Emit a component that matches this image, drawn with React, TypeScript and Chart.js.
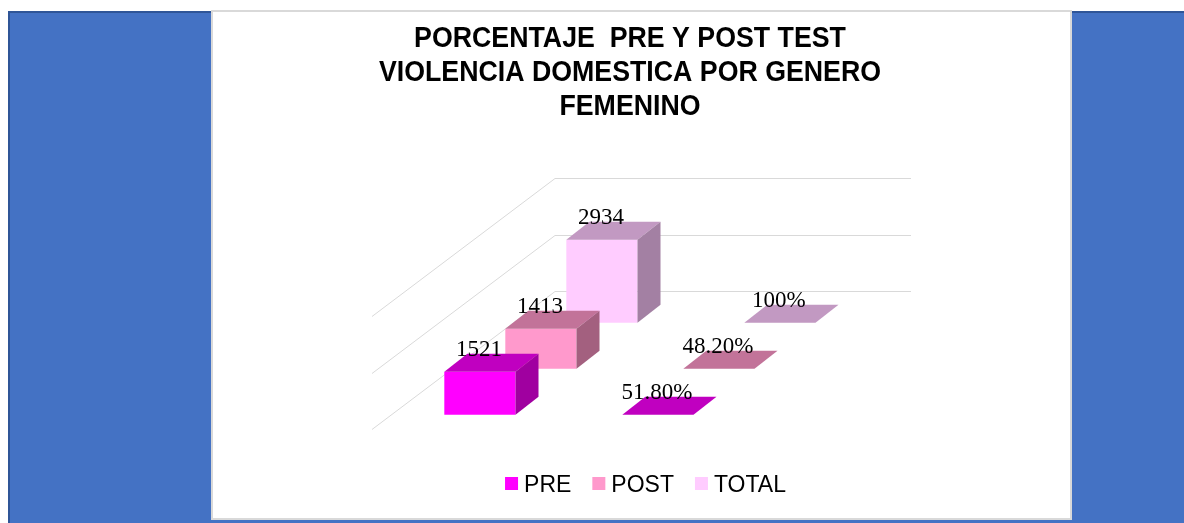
import React, { useEffect, useRef } from "react";
import { Chart, registerables } from "chart.js";

Chart.register(...registerables);

// ---------- data ----------
const CATEGORIES = ["Cantidad", "Porcentaje"];
const SERIES_NAMES = ["PRE", "POST", "TOTAL"];
const PRE_VALUES = [1521, 0.518];
const POST_VALUES = [1413, 0.482];
const TOTAL_VALUES = [2934, 1];
const Y_MIN = 0;
const Y_MAX = 4000;
const Y_STEP = 2000;
const TITLE_LINES = [
  "PORCENTAJE  PRE Y POST TEST",
  "VIOLENCIA DOMESTICA POR GENERO",
  "FEMENINO",
];

// ---------- styles ----------
const FRONT = ["#FF00FF", "#FF99CC", "#FFCCFF"];
const TOP = ["#C000C0", "#C27399", "#C299C2"];
const SIDE = ["#A000A0", "#A3607F", "#A380A3"];
const GRID = "#D9D9D9";

const ROW_DX = 61;
const ROW_DY = -46;
const ROW_START = 0.31;
const BAR_DX = 23;
const BAR_DY = -18;
const WALL_DEPTH = 3;

const CANVAS_W = 857;
const CANVAS_H = 506;

const fmt = (v: number, j: number) => {
  if (j === 0) return String(v);
  const p = v * 100;
  return Math.abs(p - Math.round(p)) < 1e-9 ? Math.round(p) + "%" : p.toFixed(2) + "%";
};

const rowOffset = (i: number) => {
  const d = ROW_START + i;
  return { ox: d * ROW_DX, oy: d * ROW_DY };
};

const threeD = {
  id: "threeD",
  beforeDatasetsDraw(chart: any) {
    const { ctx, chartArea, scales } = chart;
    const y = scales.y;
    const wx = WALL_DEPTH * ROW_DX;
    const wy = WALL_DEPTH * ROW_DY;
    ctx.save();
    ctx.strokeStyle = GRID;
    ctx.lineWidth = 1;
    y.ticks.forEach((t: any) => {
      const py = Math.round(y.getPixelForValue(t.value)) + 0.5;
      ctx.beginPath();
      ctx.moveTo(chartArea.left, py);
      ctx.lineTo(chartArea.left + wx, py + wy);
      ctx.lineTo(chartArea.right + wx, py + wy);
      ctx.stroke();
    });
    ctx.restore();
  },
  beforeDatasetDraw(chart: any, args: any) {
    const { ox, oy } = rowOffset(args.index);
    chart.ctx.save();
    chart.ctx.translate(ox, oy);
  },
  afterDatasetDraw(chart: any, args: any) {
    const ctx = chart.ctx;
    const i = args.index;
    args.meta.data.forEach((el: any) => {
      const { x, y, base, width } = el.getProps(["x", "y", "base", "width"], true);
      const l = x - width / 2;
      const r = x + width / 2;
      ctx.fillStyle = TOP[i];
      ctx.beginPath();
      ctx.moveTo(l, y);
      ctx.lineTo(r, y);
      ctx.lineTo(r + BAR_DX, y + BAR_DY);
      ctx.lineTo(l + BAR_DX, y + BAR_DY);
      ctx.closePath();
      ctx.fill();
      if (base - y > 0.5) {
        ctx.fillStyle = SIDE[i];
        ctx.beginPath();
        ctx.moveTo(r, y);
        ctx.lineTo(r + BAR_DX, y + BAR_DY);
        ctx.lineTo(r + BAR_DX, base + BAR_DY);
        ctx.lineTo(r, base);
        ctx.closePath();
        ctx.fill();
      }
    });
    ctx.restore();
  },
  afterDatasetsDraw(chart: any) {
    const ctx = chart.ctx;
    ctx.save();
    ctx.fillStyle = "#000";
    ctx.font = '23px "Liberation Serif", "Times New Roman", serif';
    ctx.textAlign = "center";
    ctx.textBaseline = "alphabetic";
    chart.data.datasets.forEach((ds: any, i: number) => {
      const meta = chart.getDatasetMeta(i);
      const { ox, oy } = rowOffset(i);
      meta.data.forEach((el: any, j: number) => {
        const { x, y } = el.getProps(["x", "y"], true);
        ctx.fillText(fmt(ds.data[j], j), x + ox - 1, y + oy + BAR_DY + 2);
      });
    });
    ctx.restore();
  },
  afterDraw(chart: any) {
    const ctx = chart.ctx;
    ctx.save();
    // title
    ctx.fillStyle = "#000";
    ctx.font = 'bold 29px "Liberation Sans", Arial, sans-serif';
    ctx.textAlign = "center";
    ctx.textBaseline = "alphabetic";
    TITLE_LINES.forEach((line, k) => {
      ctx.save();
      ctx.translate(417, 35 + 34 * k);
      ctx.scale(0.922, 1);
      ctx.fillText(line, 0, 0);
      ctx.restore();
    });
    // legend
    ctx.font = '23px "Liberation Sans", Arial, sans-serif';
    ctx.textAlign = "left";
    const items = chart.data.datasets.map((ds: any, i: number) => ({
      label: ds.label as string,
      color: FRONT[i],
      w: ctx.measureText(ds.label).width,
    }));
    const box = 13;
    const gapText = 6;
    const gapItem = 21;
    const total =
      items.reduce((s: number, it: any) => s + box + gapText + it.w, 0) +
      gapItem * (items.length - 1);
    let lx = 432.5 - total / 2;
    items.forEach((it: any) => {
      ctx.fillStyle = it.color;
      ctx.fillRect(lx, 465, box, box);
      ctx.fillStyle = "#000";
      ctx.fillText(it.label, lx + box + gapText, 479.7);
      lx += box + gapText + it.w + gapItem;
    });
    ctx.restore();
  },
};

export default function App() {
  const ref = useRef<HTMLCanvasElement | null>(null);

  useEffect(() => {
    if (!ref.current) return;
    const seriesValues = [PRE_VALUES, POST_VALUES, TOTAL_VALUES];
    const chart = new Chart(ref.current, {
      type: "bar",
      data: {
        labels: CATEGORIES,
        datasets: SERIES_NAMES.map((name, i) => ({
          label: name,
          data: seriesValues[i],
          backgroundColor: FRONT[i],
          borderWidth: 0,
          clip: false as any,
        })),
      },
      options: {
        responsive: false,
        animation: false,
        maintainAspectRatio: false,
        grouped: false,
        categoryPercentage: 1,
        barPercentage: 0.4,
        layout: { padding: { left: 159, right: 342, top: 304, bottom: 89 } },
        plugins: {
          legend: { display: false },
          title: { display: false },
          tooltip: { enabled: false },
        },
        scales: {
          x: { display: false, offset: true },
          y: {
            display: false,
            min: Y_MIN,
            max: Y_MAX,
            ticks: { stepSize: Y_STEP },
          },
        },
      } as any,
      plugins: [threeD],
    });
    return () => chart.destroy();
  }, []);

  return (
    <div style={{ position: "fixed", left: 0, top: 0, width: 1184, height: 523, overflow: "hidden" }}>
      <div
        style={{
          position: "absolute",
          left: 8,
          top: 11,
          width: 1176,
          height: 512,
          background: "#4472C4",
          borderTop: "2px solid #2F5597",
          borderLeft: "2px solid #2F5597",
          boxSizing: "border-box",
        }}
      />
      <div
        style={{
          position: "absolute",
          left: 211,
          top: 10,
          width: 861,
          height: 510,
          background: "#FFFFFF",
          border: "2px solid #D9D9D9",
          boxSizing: "border-box",
        }}
      >
        <canvas ref={ref} width={CANVAS_W} height={CANVAS_H} style={{ display: "block", width: CANVAS_W, height: CANVAS_H }} />
      </div>
    </div>
  );
}
